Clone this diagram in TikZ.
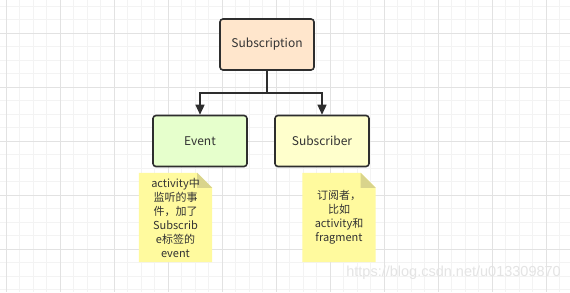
\documentclass[tikz,border=0pt]{standalone}
\usepackage{fontspec}
\setmainfont{Noto Sans CJK SC}
\newfontfamily\wmfont{Liberation Sans}
\usetikzlibrary{arrows.meta}
\definecolor{gridminor}{HTML}{F3F3F3}
\definecolor{gridmajor}{HTML}{E2E2E2}
\definecolor{boxline}{HTML}{2E2E2E}
\definecolor{txt}{HTML}{333333}
\definecolor{peach}{HTML}{FFE6CC}
\definecolor{lgreen}{HTML}{E6FFCC}
\definecolor{lyellow}{HTML}{FFFFCC}
\definecolor{notefill}{HTML}{FFFA9E}
\definecolor{foldfill}{HTML}{D9D48C}
\definecolor{wmcol}{HTML}{E4E4E4}
\begin{document}
\begin{tikzpicture}[x=1pt,y=-1pt,
  box/.style={draw=boxline, line width=1.6pt, rounded corners=3pt,
    minimum width=94pt, minimum height=51pt, inner sep=0pt,
    font=\fontsize{12}{14}\selectfont, text=txt},
  conn/.style={draw=boxline, line width=1.5pt,
    -{Triangle[length=10pt,width=9pt]}},
  noteframe/.style={minimum width=73pt, minimum height=89pt, inner sep=0pt},
  notetext/.style={align=center, text=txt, inner sep=0pt,
    font=\fontsize{11}{14}\selectfont}]
\useasboundingbox (0,0) rectangle (570,292);
\fill[white] (0,0) rectangle (570,292);
% grid
\foreach \i in {0,...,42} {
  \pgfmathsetmacro\xx{6+13.5*\i}
  \draw[gridminor, line width=0.8pt] (\xx,0) -- (\xx,292);
}
\foreach \i in {0,...,21} {
  \pgfmathsetmacro\yy{6.3+13.5*\i}
  \draw[gridminor, line width=0.8pt] (0,\yy) -- (570,\yy);
}
\foreach \i in {0,...,10} {
  \pgfmathsetmacro\xx{6+54*\i}
  \draw[gridmajor, line width=0.8pt] (\xx,0) -- (\xx,292);
}
\foreach \i in {0,...,5} {
  \pgfmathsetmacro\yy{33.3+54*\i}
  \draw[gridmajor, line width=0.8pt] (0,\yy) -- (570,\yy);
}
% watermark
\node[text=wmcol, font=\wmfont\fontsize{14.5}{15}\selectfont, anchor=east, inner sep=0pt] (wm) at (561,273) {https://blog.csdn.net/u013309870};
% boxes
\node[box, fill=peach] (sub) at (267,44.5) {Subscription};
\node[box, fill=lgreen] (ev) at (200,141) {Event};
\node[box, fill=lyellow] (sb) at (322,141) {Subscriber};
\coordinate (j) at (267,93);
\draw[conn] (sub.south) -- (j) -| (ev.north);
\draw[conn] (j) -| (sb.north);
% notes
\path node[noteframe] (n1) at (175.5,217.5) {};
\path node[noteframe] (n2) at (339,217.5) {};
\foreach \n in {n1,n2} {
  \fill[notefill] (\n.north west) -- ([xshift=-15pt]\n.north east)
    -- ([yshift=-15pt]\n.north east) -- (\n.south east) -- (\n.south west) -- cycle;
  \fill[foldfill] ([xshift=-15pt]\n.north east) -- ([yshift=-15pt]\n.north east)
    -- ([xshift=-15pt,yshift=-15pt]\n.north east) -- cycle;
}
\node[notetext] (t1) at (175.5,217.5) {activity中\\监听的事\\件，加了\\Subscrib\\e标签的\\event};
\node[notetext] (t2) at (339,217.5) {订阅者，\\比如\\activity和\\fragment};
\end{tikzpicture}
\end{document}
